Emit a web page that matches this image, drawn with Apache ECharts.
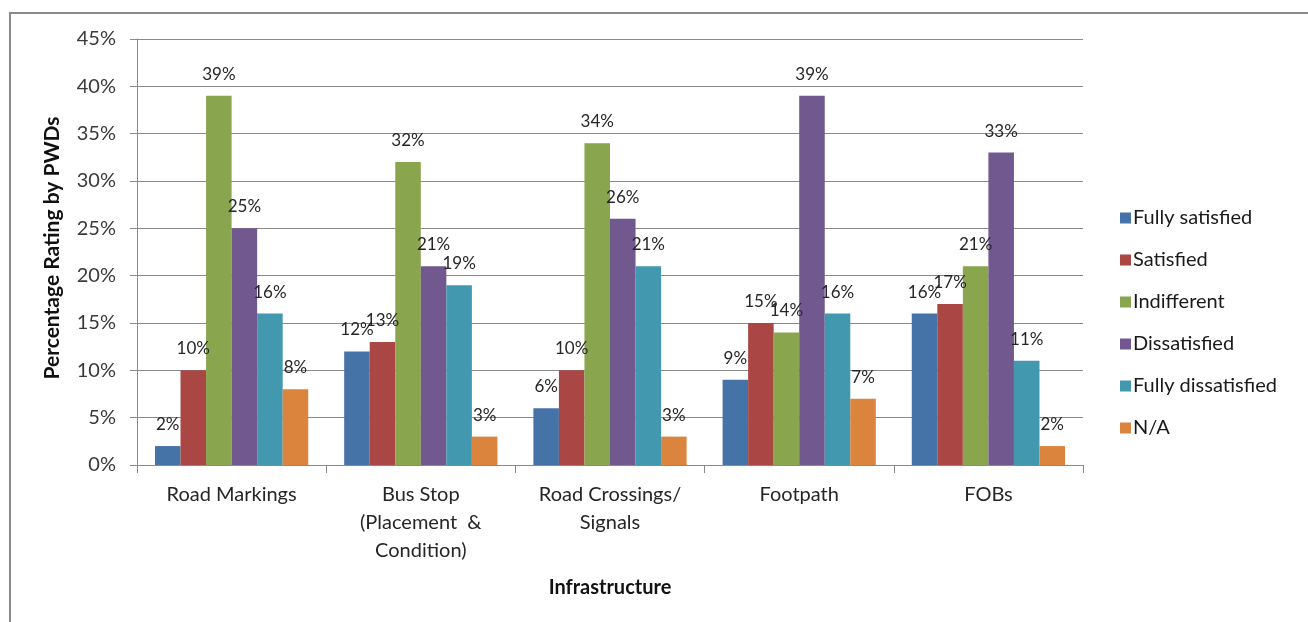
<!DOCTYPE html>
<html>
<head>
<meta charset="utf-8">
<script src="https://cdn.jsdelivr.net/npm/echarts@6/dist/echarts.min.js"></script>
<style>
  html, body { margin: 0; padding: 0; background: #ffffff; }
  #chart { width: 1308px; height: 622px; }
</style>
</head>
<body>
<div id="chart"></div>
<script>
// Infrastructure items rated by PWDs
const categories = [
  'Road Markings',
  'Bus Stop\n(Placement  &\nCondition)',
  'Road Crossings/\nSignals',
  'Footpath',
  'FOBs'
];

// Share of respondents (%) per rating
const fullySatisfied    = [2, 12, 6, 9, 16];
const satisfied         = [10, 13, 10, 15, 17];
const indifferent       = [39, 32, 34, 14, 21];
const dissatisfied      = [25, 21, 26, 39, 33];
const fullyDissatisfied = [16, 19, 21, 16, 11];
const notApplicable     = [8, 3, 3, 7, 2];

const seriesNames = ['Fully satisfied', 'Satisfied', 'Indifferent', 'Dissatisfied', 'Fully dissatisfied', 'N/A'];
const seriesValues = [fullySatisfied, satisfied, indifferent, dissatisfied, fullyDissatisfied, notApplicable];
const seriesColors = ['#4572A7', '#AA4643', '#89A54E', '#71588F', '#4198AF', '#DB843D'];

const yTicks = { min: 0, max: 45, interval: 5 };

const FONT = 'Lato, "Open Sans", sans-serif';

const chart = echarts.init(document.getElementById('chart'), null, { renderer: 'canvas' });

chart.setOption({
  animation: false,
  backgroundColor: '#ffffff',
  textStyle: { fontFamily: FONT },
  graphic: [{
    type: 'rect',
    shape: { x: 10, y: 13, width: 1400, height: 700 },
    style: { fill: 'none', stroke: '#8a8a8a', lineWidth: 2 },
    silent: true,
    z: -1
  }],
  grid: { left: 137, right: 225, top: 39, bottom: 157, containLabel: false },
  legend: {
    orient: 'vertical',
    left: 1115,
    top: 202,
    itemWidth: 11,
    itemHeight: 11,
    itemGap: 20,
    icon: 'rect',
    textStyle: { fontFamily: FONT, fontSize: 20, color: '#1a1a1a', lineHeight: 22, padding: [0, 0, 0, -3] },
    data: seriesNames
  },
  xAxis: {
    type: 'category',
    data: categories,
    name: 'Infrastructure',
    nameLocation: 'middle',
    nameGap: 113,
    nameTextStyle: { fontFamily: FONT, fontSize: 20, fontWeight: 'bold', color: '#111111' },
    axisLine: { show: true, lineStyle: { color: '#8a8a8a', width: 1 } },
    axisTick: { show: true, length: 8, alignWithLabel: false, lineStyle: { color: '#8a8a8a' } },
    axisLabel: { fontFamily: FONT, fontSize: 20, color: '#262626', margin: 16, lineHeight: 28, interval: 0 },
    splitLine: { show: false }
  },
  yAxis: {
    type: 'value',
    min: yTicks.min,
    max: yTicks.max,
    interval: yTicks.interval,
    name: 'Percentage Rating by PWDs',
    nameLocation: 'middle',
    nameGap: 74,
    nameRotate: 90,
    nameTextStyle: { fontFamily: FONT, fontSize: 21, fontWeight: 'bold', color: '#111111', padding: [0, 0, 0, 8] },
    axisLine: { show: true, lineStyle: { color: '#8a8a8a', width: 1 } },
    axisTick: { show: true, length: 7, inside: false, lineStyle: { color: '#8a8a8a' } },
    axisLabel: { fontFamily: FONT, fontSize: 20, color: '#3a3a3a', margin: 21, formatter: '{value}%' },
    splitLine: { show: true, lineStyle: { color: '#8a8a8a', width: 1 } }
  },
  series: seriesNames.map((name, i) => ({
    name: name,
    type: 'bar',
    data: seriesValues[i],
    barGap: '0%',
    barCategoryGap: '19%',
    itemStyle: { color: seriesColors[i] },
    label: {
      show: true,
      position: 'top',
      distance: 13,
      formatter: '{c}%',
      fontFamily: FONT,
      fontSize: 17,
      color: '#262626'
    }
  }))
});
</script>
</body>
</html>
